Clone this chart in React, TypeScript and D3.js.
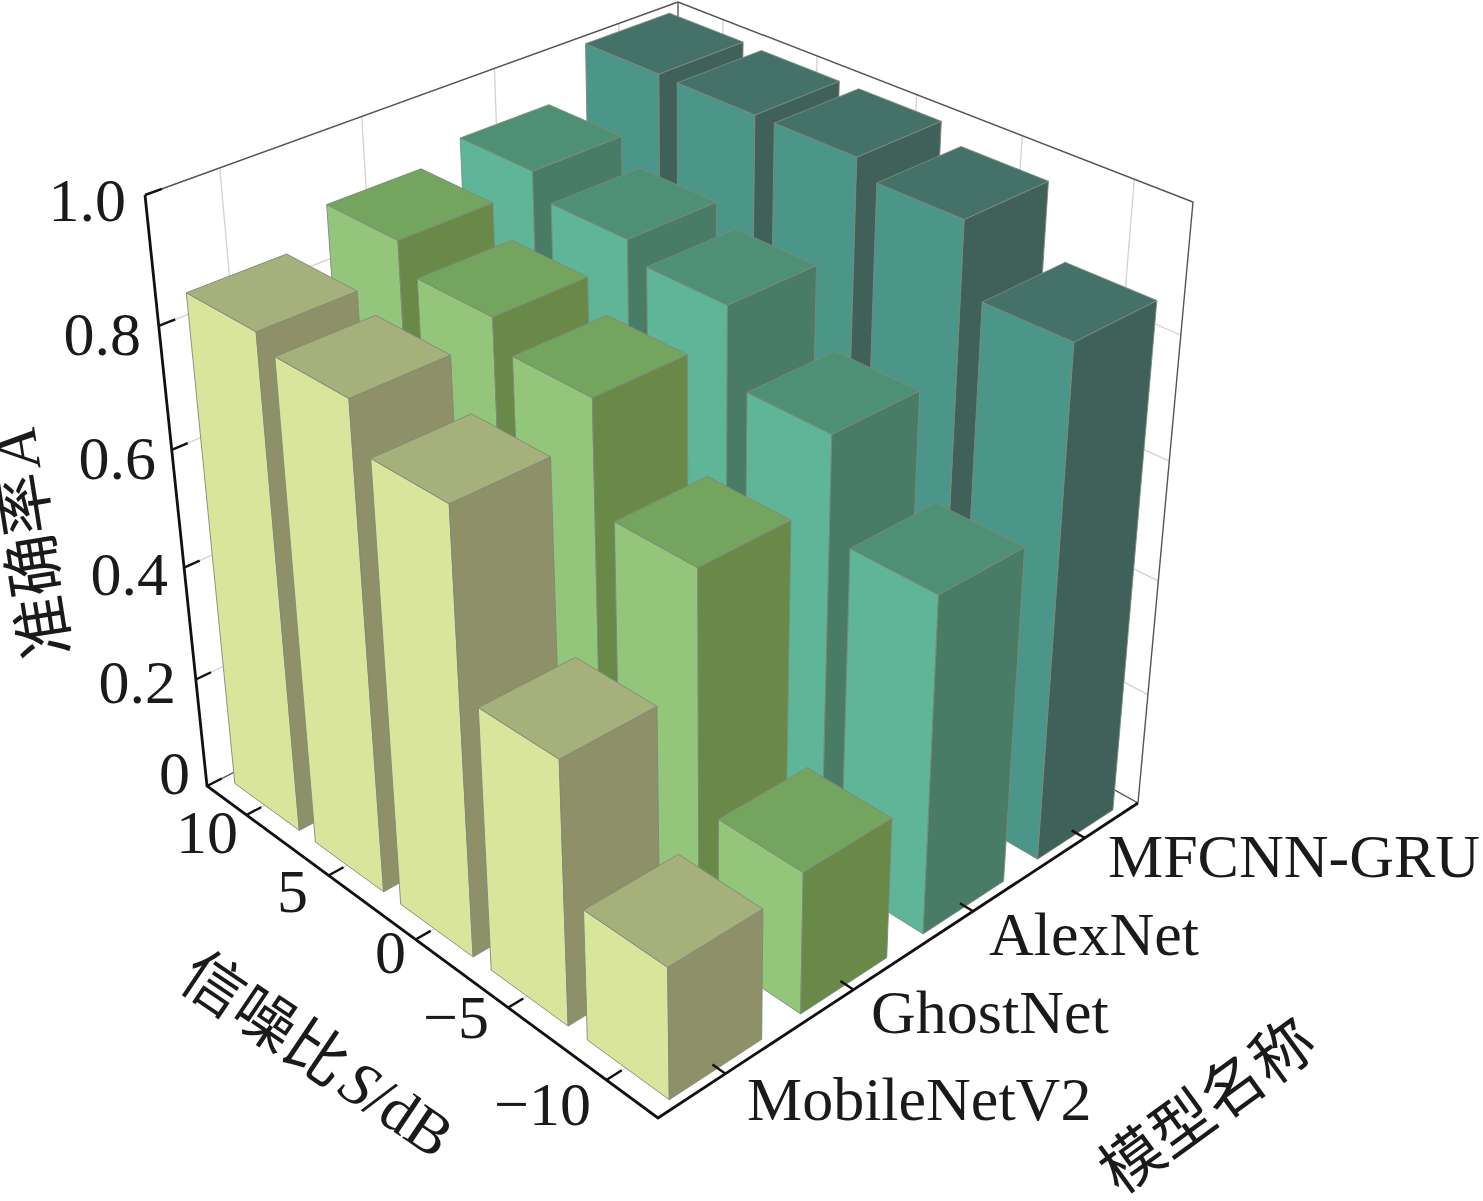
import React from "react";
import * as d3 from "d3";

const snrLabels = ["10", "5", "0", "−5", "−10"];
const modelNames = ["MobileNetV2", "GhostNet", "AlexNet", "MFCNN-GRU"];
const zTicks = [0, 0.2, 0.4, 0.6, 0.8, 1.0];
const zTickText = ["0", "0.2", "0.4", "0.6", "0.8", "1.0"];

const mobileNetValues = [0.848, 0.825, 0.75, 0.45, 0.225];
const ghostNetValues = [0.9, 0.855, 0.81, 0.635, 0.245];
const alexNetValues = [0.925, 0.887, 0.858, 0.738, 0.575];
const mfcnnValues = [1.0, 0.998, 0.998, 0.972, 0.862];
const seriesValues = [mobileNetValues, ghostNetValues, alexNetValues, mfcnnValues];

const faceColors = [
  { front: "#d9e59b", top: "#a5b07a", side: "#8e9167" },
  { front: "#93c67b", top: "#74a55f", side: "#698949" },
  { front: "#5eb598", top: "#4e9076", side: "#487c66" },
  { front: "#4b9688", top: "#447268", side: "#40605a" },
];

type P = [number, number];
const floorLeft: P = [207, 786];
const floorFront: P = [658, 1118];
const floorRight: P = [1138, 803];
const topLeft: P = [145, 195];
const topBack: P = [678, 2];
const topRight: P = [1193, 202];

function meet(a: P, b: P, c: P, d: P): P {
  const d1 = [b[0] - a[0], b[1] - a[1]];
  const d2 = [d[0] - c[0], d[1] - c[1]];
  const den = d1[0] * d2[1] - d1[1] * d2[0];
  const t = ((c[0] - a[0]) * d2[1] - (c[1] - a[1]) * d2[0]) / den;
  return [a[0] + t * d1[0], a[1] + t * d1[1]];
}
const vpV = meet(floorFront, floorRight, topLeft, topBack);
const vpU = meet(floorLeft, floorFront, topBack, topRight);
const floorBack = meet(floorLeft, vpV, floorRight, vpU);
const topFront = meet(topLeft, vpU, topRight, vpV);

function homography(q: P[]) {
  const [[x0, y0], [x1, y1], [x2, y2], [x3, y3]] = q;
  const dx1 = x1 - x2, dx2 = x3 - x2, sx = x0 - x1 + x2 - x3;
  const dy1 = y1 - y2, dy2 = y3 - y2, sy = y0 - y1 + y2 - y3;
  const den = dx1 * dy2 - dx2 * dy1;
  const g = (sx * dy2 - dx2 * sy) / den;
  const h = (dx1 * sy - sx * dy1) / den;
  const a = x1 - x0 + g * x1, b = x3 - x0 + h * x3;
  const d = y1 - y0 + g * y1, e = y3 - y0 + h * y3;
  return (u: number, v: number): P => {
    const w = g * u + h * v + 1;
    return [(a * u + b * v + x0) / w, (d * u + e * v + y0) / w];
  };
}
const floorMap = homography([floorLeft, floorFront, floorRight, floorBack]);
const topMap = homography([topLeft, topFront, topRight, topBack]);

const depthK = 1.137;
const zScale = d3.scaleLinear().domain([0, 1]).range([0, 1]);
function project(u: number, v: number, z: number): P {
  const zz = zScale(z);
  const t = zz / (zz + depthK * (1 - zz));
  const a = floorMap(u, v), b = topMap(u, v);
  return [a[0] + (b[0] - a[0]) * t, a[1] + (b[1] - a[1]) * t];
}

const uScale = d3.scalePoint<string>().domain(snrLabels).range([0, 1]).padding(0.5);
const vScale = d3.scalePoint<string>().domain(modelNames).range([0, 1]).padding(0.5);
const halfU = 0.0805;
const halfV = 0.087;
const shiftU = 0.0045;
const shiftV = -0.003;

const poly = d3.line<P>().curve(d3.curveLinearClosed);
const seg = d3.line<P>();

const serif = "'Liberation Serif', 'Times New Roman', serif";
const cjk = "'Noto Sans CJK SC', sans-serif";
const FS = 62;

const zLabelPos: P[] = [[190, 794], [176, 703], [168, 595], [156, 479], [141, 355], [126, 221]];
const snrLabelPos: P[] = [[238, 853], [308, 912], [406, 973], [489, 1038], [591, 1125]];
const modelLabelPos: P[] = [[747, 1120], [871, 1033], [989, 955], [1108, 877]];

const GRID = "#d6cfd3";

export default function App() {
  const bars: React.ReactNode[] = [];
  for (let j = modelNames.length - 1; j >= 0; j--) {
    snrLabels.forEach((s, i) => {
      const z = seriesValues[j][i];
      const u0 = uScale(s)! + shiftU - halfU, u1 = uScale(s)! + shiftU + halfU;
      const v0 = vScale(modelNames[j])! + shiftV - halfV, v1 = vScale(modelNames[j])! + shiftV + halfV;
      const c = faceColors[j];
      const edge = { stroke: "#7d8a7a", strokeWidth: 0.9, strokeLinejoin: "round" as const };
      bars.push(
        <g key={`${i}-${j}`}>
          <path d={poly([project(u0, v0, 0), project(u1, v0, 0), project(u1, v0, z), project(u0, v0, z)])!} fill={c.front} {...edge} />
          <path d={poly([project(u1, v0, 0), project(u1, v1, 0), project(u1, v1, z), project(u1, v0, z)])!} fill={c.side} {...edge} />
          <path d={poly([project(u0, v0, z), project(u1, v0, z), project(u1, v1, z), project(u0, v1, z)])!} fill={c.top} {...edge} />
        </g>
      );
    });
  }

  return (
    <svg width={1483} height={1201} style={{ position: "absolute", left: 0, top: 0, display: "block", background: "#fff" }}>
      <g fill="none" stroke={GRID} strokeWidth={1.3}>
        {modelNames.map((m) => (
          <g key={m}>
            <path d={seg([project(0, vScale(m)!, 0), project(0, vScale(m)!, 1)])!} />
            <path d={seg([project(0, vScale(m)!, 0), project(1, vScale(m)!, 0)])!} />
          </g>
        ))}
        {snrLabels.map((s) => (
          <g key={s}>
            <path d={seg([project(uScale(s)!, 1, 0), project(uScale(s)!, 1, 1)])!} />
            <path d={seg([project(uScale(s)!, 0, 0), project(uScale(s)!, 1, 0)])!} />
          </g>
        ))}
        {zTicks.map((t) => (
          <path key={t} d={seg([project(0, 0, t), project(0, 1, t), project(1, 1, t)])!} />
        ))}
      </g>
      <g fill="none" stroke="#5b5254" strokeWidth={1.4}>
        <path d={seg([topLeft, topBack, topRight, floorRight])!} />
        <path d={seg([topBack, floorBack])!} />
        <path d={seg([floorLeft, floorBack, floorRight])!} />
      </g>
      {bars}
      <g fill="none" stroke="#111" strokeWidth={2.8}>
        <path d={seg([topLeft, floorLeft, floorFront, floorRight])!} strokeLinejoin="miter" />
        {zTicks.map((t) => (
          <path key={t} strokeWidth={2.4} d={seg([project(0, 0, t), project(0, 0.028, t)])!} />
        ))}
        {snrLabels.map((s) => (
          <path key={s} strokeWidth={2.4} d={seg([project(uScale(s)!, 0, 0), project(uScale(s)!, 0.028, 0)])!} />
        ))}
        {modelNames.map((m) => (
          <path key={m} strokeWidth={2.4} d={seg([project(1, vScale(m)!, 0), project(0.975, vScale(m)!, 0)])!} />
        ))}
      </g>
      <g fontFamily={serif} fontSize={FS} fill="#1a1a1a">
        {zTickText.map((t, i) => (
          <text key={t} x={zLabelPos[i][0]} y={zLabelPos[i][1]} textAnchor="end">{t}</text>
        ))}
        {snrLabels.map((t, i) => (
          <text key={t} x={snrLabelPos[i][0]} y={snrLabelPos[i][1]} textAnchor="end">{t}</text>
        ))}
        {modelNames.map((t, i) => (
          <text key={t} x={modelLabelPos[i][0]} y={modelLabelPos[i][1]}>{t}</text>
        ))}
      </g>
      <g fill="#1a1a1a" fontSize={FS}>
        <text transform="translate(70,654) rotate(-99)" fontFamily={cjk}>
          准确率<tspan fontFamily={serif} fontStyle="italic" dx={6}>A</tspan>
        </text>
        <text transform="translate(176,985) rotate(34)" fontFamily={cjk}>
          信噪比<tspan fontFamily={serif} fontStyle="italic" dx={6}>S</tspan><tspan fontFamily={serif}>/dB</tspan>
        </text>
        <text transform="translate(1120,1196) rotate(-36)" fontFamily={cjk}>模型名称</text>
      </g>
    </svg>
  );
}
